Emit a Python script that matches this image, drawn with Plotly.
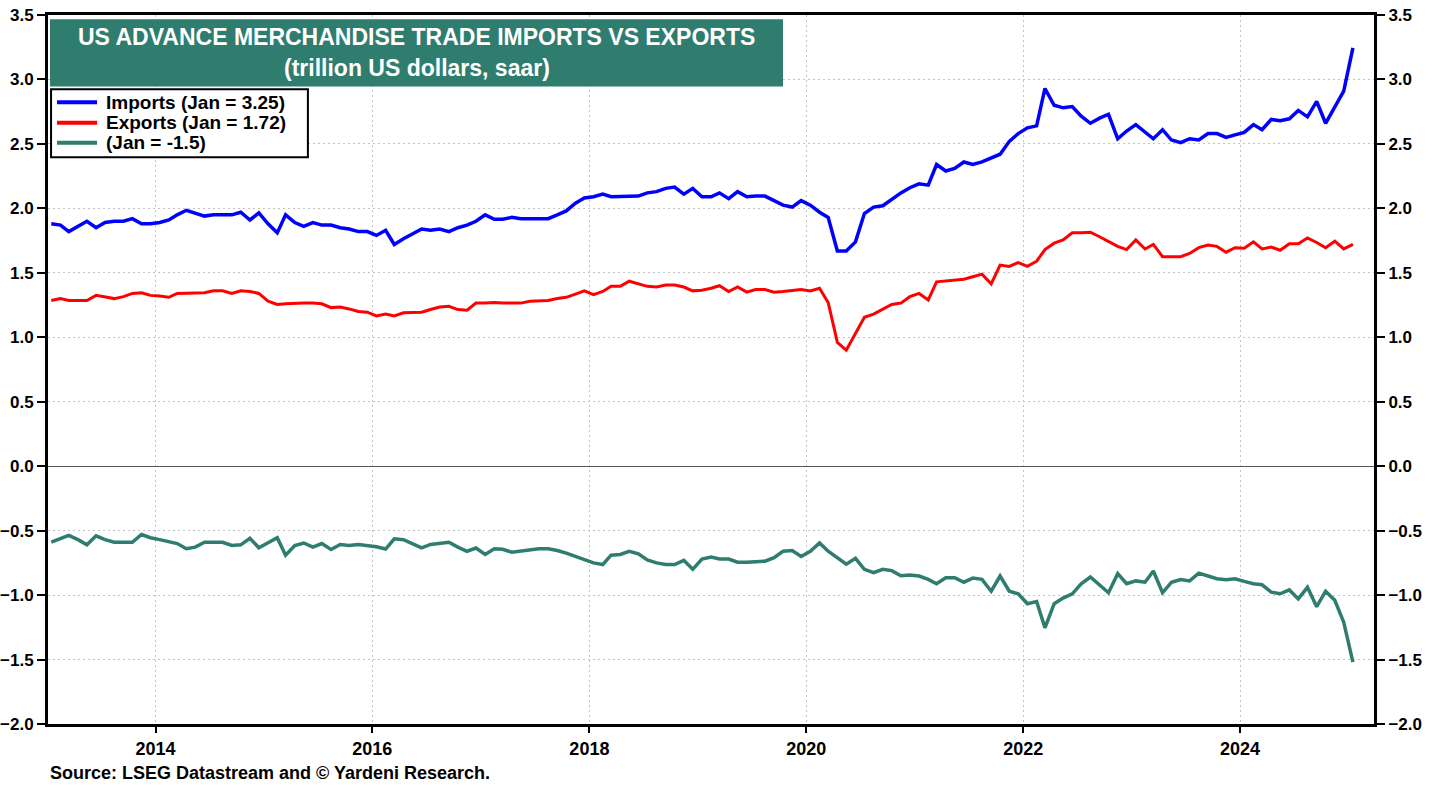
import plotly.graph_objects as go
import pandas as pd

# monthly, Jan 2013 .. Jan 2025 (trillion US dollars, saar)
months = pd.date_range("2013-01-01", "2025-01-01", freq="MS") + pd.Timedelta(days=14)

imports = [
    1.88, 1.87, 1.82, 1.86, 1.90, 1.85, 1.89, 1.90, 1.90, 1.92, 1.88, 1.88,
    1.89, 1.91, 1.95, 1.985, 1.965, 1.94, 1.95, 1.95, 1.95, 1.97, 1.91, 1.965,
    1.88, 1.81, 1.95, 1.89, 1.86, 1.89, 1.87, 1.87, 1.85, 1.84, 1.82, 1.82,
    1.79, 1.83, 1.72, 1.765, 1.80, 1.84, 1.83, 1.84, 1.82, 1.85, 1.87, 1.90,
    1.95, 1.915, 1.915, 1.93, 1.92, 1.92, 1.92, 1.92, 1.95, 1.98, 2.04, 2.08,
    2.09, 2.11, 2.09, 2.09, 2.09, 2.095, 2.12, 2.13, 2.155, 2.165, 2.11, 2.155,
    2.09, 2.09, 2.12, 2.075, 2.13, 2.09, 2.095, 2.095, 2.06, 2.025, 2.01, 2.06,
    2.025, 1.97, 1.93, 1.67, 1.67, 1.74, 1.96, 2.01, 2.02, 2.07, 2.12, 2.16,
    2.19, 2.18, 2.34, 2.29, 2.31, 2.36, 2.34, 2.36, 2.39, 2.42, 2.52, 2.58,
    2.625, 2.64, 2.93, 2.80, 2.78, 2.79, 2.715, 2.66, 2.70, 2.73, 2.54, 2.60,
    2.65, 2.59, 2.54, 2.61, 2.53, 2.51, 2.54, 2.53, 2.58, 2.58, 2.55, 2.57,
    2.59, 2.65, 2.61, 2.69, 2.68, 2.695, 2.76, 2.71, 2.83, 2.66, 2.79, 2.91,
    3.245,
]

exports = [
    1.285, 1.30, 1.285, 1.285, 1.285, 1.325, 1.315, 1.30, 1.315, 1.34, 1.345, 1.325,
    1.32, 1.31, 1.34, 1.34, 1.34, 1.345, 1.36, 1.36, 1.34, 1.36, 1.355, 1.34,
    1.28, 1.255, 1.26, 1.265, 1.265, 1.265, 1.26, 1.23, 1.235, 1.22, 1.20, 1.195,
    1.165, 1.18, 1.165, 1.19, 1.19, 1.195, 1.215, 1.235, 1.24, 1.215, 1.21, 1.265,
    1.265, 1.27, 1.265, 1.265, 1.265, 1.28, 1.285, 1.285, 1.30, 1.31, 1.335, 1.36,
    1.33, 1.355, 1.395, 1.395, 1.435, 1.415, 1.395, 1.39, 1.405, 1.405, 1.39, 1.36,
    1.365, 1.38, 1.40, 1.355, 1.39, 1.35, 1.37, 1.37, 1.35, 1.355, 1.36, 1.37,
    1.36, 1.38, 1.27, 0.96, 0.90, 1.03, 1.155, 1.18, 1.215, 1.255, 1.265, 1.315,
    1.34, 1.29, 1.43, 1.435, 1.44, 1.45, 1.47, 1.49, 1.415, 1.56, 1.55, 1.58,
    1.55, 1.59, 1.68, 1.73, 1.755, 1.81, 1.81, 1.815, 1.78, 1.745, 1.705, 1.68,
    1.755, 1.685, 1.72, 1.625, 1.625, 1.625, 1.65, 1.695, 1.715, 1.705, 1.66, 1.695,
    1.69, 1.74, 1.685, 1.70, 1.675, 1.725, 1.725, 1.77, 1.735, 1.695, 1.745, 1.685,
    1.72,
]

balance = [
    -0.59, -0.56, -0.537, -0.57, -0.61, -0.54, -0.57, -0.59, -0.59, -0.59, -0.53, -0.555,
    -0.57, -0.583, -0.60, -0.64, -0.628, -0.59, -0.59, -0.59, -0.615, -0.61, -0.56, -0.633,
    -0.594, -0.555, -0.69, -0.615, -0.596, -0.628, -0.60, -0.646, -0.607, -0.615, -0.607, -0.615,
    -0.625, -0.643, -0.563, -0.57, -0.60, -0.633, -0.607, -0.60, -0.59, -0.628, -0.66, -0.635,
    -0.685, -0.64, -0.645, -0.667, -0.66, -0.65, -0.64, -0.64, -0.654, -0.675, -0.70, -0.725,
    -0.75, -0.763, -0.69, -0.685, -0.66, -0.68, -0.727, -0.75, -0.763, -0.763, -0.73, -0.80,
    -0.72, -0.705, -0.72, -0.72, -0.745, -0.745, -0.74, -0.737, -0.71, -0.66, -0.654, -0.70,
    -0.66, -0.596, -0.66, -0.715, -0.76, -0.715, -0.80, -0.826, -0.80, -0.81, -0.85, -0.845,
    -0.852, -0.878, -0.912, -0.865, -0.865, -0.90, -0.868, -0.878, -0.97, -0.852, -0.97, -0.99,
    -1.067, -1.05, -1.254, -1.067, -1.023, -0.99, -0.912, -0.86, -0.925, -0.982, -0.834, -0.912,
    -0.89, -0.90, -0.813, -0.982, -0.90, -0.88, -0.89, -0.83, -0.852, -0.873, -0.88, -0.873,
    -0.894, -0.912, -0.92, -0.977, -0.99, -0.96, -1.03, -0.94, -1.09, -0.97, -1.04, -1.21,
    -1.52,
]

year_ticks = ["2014-01-01", "2016-01-01", "2018-01-01", "2020-01-01", "2022-01-01", "2024-01-01"]
year_labels = ["2014", "2016", "2018", "2020", "2022", "2024"]

series_names = ["Imports (Jan = 3.25)", "Exports (Jan = 1.72)", "(Jan = -1.5)"]

TEAL = "#2E7D6F"
COLORS = ["#0000FF", "#FF0000", TEAL]
FONT = "Liberation Sans, Arial, sans-serif"
YRANGE = [-2.0, 3.5]
GRID = dict(showgrid=True, gridcolor="#C4C4C4", griddash="2px,3px", gridwidth=1)

fig = go.Figure()

fig.add_trace(go.Scatter(
    x=months, y=imports, name=series_names[0],
    mode="lines", line=dict(color=COLORS[0], width=3.5),
))
fig.add_trace(go.Scatter(
    x=months, y=exports, name=series_names[1],
    mode="lines", line=dict(color=COLORS[1], width=3),
))
fig.add_trace(go.Scatter(
    x=months, y=balance, name=series_names[2], yaxis="y2",
    mode="lines", line=dict(color=COLORS[2], width=3.5),
))

axis_common = dict(
    range=YRANGE, dtick=0.5, tick0=0, tickformat=".1f",
    ticks="outside", ticklen=8, tickwidth=2, tickcolor="black",
    showline=True, linewidth=3, linecolor="black", automargin=False,
    ticklabeloverflow="allow",
    tickfont=dict(family=FONT, size=17, color="black", weight="bold"),
)

fig.update_layout(
    width=1436, height=785,
    paper_bgcolor="white", plot_bgcolor="white",
    margin=dict(l=48, r=62, t=15, b=61),
    font=dict(family=FONT, color="black"),
    showlegend=False,
    xaxis=dict(
        type="date", range=["2013-01-04", "2025-03-27"],
        tickvals=year_ticks, ticktext=year_labels,
        ticks="outside", ticklen=6, tickwidth=1.5, tickcolor="black",
        showline=True, linewidth=3, linecolor="black", mirror=True,
        tickfont=dict(family=FONT, size=18, color="black", weight="bold"),
        zeroline=False, automargin=False, **GRID,
    ),
    yaxis=dict(
        **axis_common, side="left", **GRID,
        zeroline=True, zerolinecolor="#555555", zerolinewidth=1,
    ),
    yaxis2=dict(
        **axis_common, side="right", overlaying="y",
        showgrid=False, zeroline=False,
    ),
)

# title box
fig.add_shape(
    type="rect", xref="paper", yref="paper",
    x0=0.0015, x1=0.5543, y0=0.899, y1=0.994,
    fillcolor=TEAL, line=dict(width=0), layer="above",
)
fig.add_annotation(
    xref="paper", yref="paper", x=0.278, y=0.9694,
    text="US ADVANCE MERCHANDISE TRADE IMPORTS VS EXPORTS",
    showarrow=False, xanchor="center", yanchor="middle",
    font=dict(family=FONT, size=23, color="white", weight="bold"),
)
fig.add_annotation(
    xref="paper", yref="paper", x=0.278, y=0.9248,
    text="(trillion US dollars, saar)",
    showarrow=False, xanchor="center", yanchor="middle",
    font=dict(family=FONT, size=23, color="white", weight="bold"),
)

# legend box drawn by hand
fig.add_shape(
    type="rect", xref="paper", yref="paper",
    x0=0.0023, x1=0.196, y0=0.7993, y1=0.8952,
    fillcolor="white", line=dict(color="black", width=2), layer="above",
)
legend_rows = [0.8769, 0.8481, 0.8199]
for name, color, ly in zip(series_names, COLORS, legend_rows):
    fig.add_shape(
        type="line", xref="paper", yref="paper",
        x0=0.0068, x1=0.0370, y0=ly, y1=ly,
        line=dict(color=color, width=4), layer="above",
    )
    fig.add_annotation(
        xref="paper", yref="paper", x=0.042, y=ly,
        text=name, showarrow=False, xanchor="left", yanchor="middle",
        font=dict(family=FONT, size=19, color="black", weight="bold"),
    )

fig.add_annotation(
    xref="paper", yref="paper", x=0.0, y=-0.0691,
    text="Source: LSEG Datastream and © Yardeni Research.",
    showarrow=False, xanchor="left", yanchor="middle",
    font=dict(family=FONT, size=18, color="black", weight="bold"),
)

# no modebar, and drop the default 8px page margin so the figure fills the window
fig.write_html(
    "out.html",
    config={"displayModeBar": False},
    post_script="document.body.style.margin = '0';",
)
